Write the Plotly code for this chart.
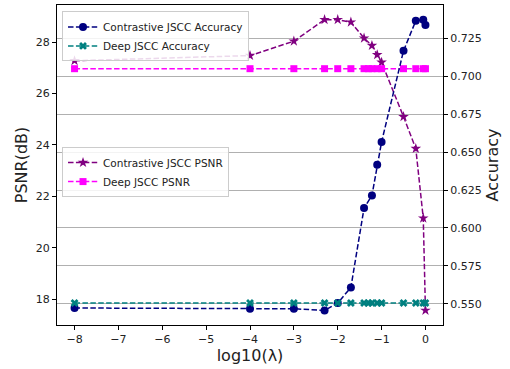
import plotly.graph_objects as go

# Data
x_contrastive = [-8, -4, -3, -2.3, -2, -1.7, -1.4, -1.22, -1.1, -1.0, -0.5, -0.22, -0.05, 0]
acc_contrastive = [0.5472, 0.5467, 0.5467, 0.5456, 0.5505, 0.5608, 0.6131, 0.6214, 0.6417,
                   0.6567, 0.7168, 0.7366, 0.7373, 0.7338]
psnr_contrastive = [27.28, 27.48, 28.04, 28.88, 28.88, 28.78, 28.16, 27.87, 27.51, 27.22,
                    25.10, 23.86, 21.15, 17.56]

x_deep = [-8, -4, -3, -2.3, -2, -1.7, -1.4, -1.3, -1.22, -1.1, -1.0, -0.5, -0.22, -0.05, 0]
acc_deep = [0.5505] * len(x_deep)
psnr_deep = [26.97] * len(x_deep)

x_ticks = [-8, -7, -6, -5, -4, -3, -2, -1, 0]
psnr_ticks = [18, 20, 22, 24, 26, 28]
acc_ticks = [0.550, 0.575, 0.600, 0.625, 0.650, 0.675, 0.700, 0.725]

FONT = "DejaVu Sans"
dash = "5.5px,2.4px"

fig = go.Figure()

fig.add_trace(go.Scatter(
    x=x_contrastive, y=acc_contrastive, name="Contrastive JSCC Accuracy", yaxis="y2",
    mode="lines+markers", line=dict(color="#000080", width=1.5, dash=dash),
    marker=dict(symbol="circle", size=8, color="#000080"), legend="legend"))
fig.add_trace(go.Scatter(
    x=x_deep, y=acc_deep, name="Deep JSCC Accuracy", yaxis="y2",
    mode="lines+markers", line=dict(color="#008080", width=1.5, dash=dash),
    marker=dict(symbol="x", size=7, color="#008080", line=dict(width=0)), legend="legend"))
fig.add_trace(go.Scatter(
    x=x_contrastive, y=psnr_contrastive, name="Contrastive JSCC PSNR", yaxis="y",
    mode="lines+markers", line=dict(color="#800080", width=1.5, dash=dash),
    marker=dict(symbol="star", size=8, color="#800080", line=dict(width=0)), legend="legend2"))
fig.add_trace(go.Scatter(
    x=x_deep, y=psnr_deep, name="Deep JSCC PSNR", yaxis="y",
    mode="lines+markers", line=dict(color="#FF00FF", width=1.5, dash=dash),
    marker=dict(symbol="square", size=7, color="#FF00FF"), legend="legend2"))

axis_common = dict(showline=True, linecolor="black", linewidth=1, ticks="outside",
                   ticklen=4, tickcolor="black", tickfont=dict(family=FONT, size=11, color="#222"),
                   zeroline=False)

fig.update_layout(
    width=510, height=369,
    margin=dict(l=57, r=67, t=5, b=44),
    paper_bgcolor="white", plot_bgcolor="white",
    font=dict(family=FONT, color="#222"),
    xaxis=dict(range=[-8.4, 0.4], tickvals=x_ticks, showgrid=False, mirror=True,
               title=dict(text="log10(λ)", font=dict(family=FONT, size=16, color="#222"), standoff=4),
               **axis_common),
    yaxis=dict(range=[16.99, 29.45], tickvals=psnr_ticks, showgrid=False,
               title=dict(text="PSNR(dB)", font=dict(family=FONT, size=16, color="#222"), standoff=4),
               **axis_common),
    yaxis2=dict(range=[0.536, 0.747], tickvals=acc_ticks, tickformat=".3f", overlaying="y",
                side="right", showgrid=True, gridcolor="#b0b0b0", gridwidth=1,
                title=dict(text="Accuracy", font=dict(family=FONT, size=16, color="#222"), standoff=6),
                **axis_common),
    legend=dict(x=0.013, y=0.98, xanchor="left", yanchor="top", bgcolor="rgba(255,255,255,0.85)",
                bordercolor="#cccccc", borderwidth=1, font=dict(family=FONT, size=10.5, color="#222"),
                tracegroupgap=0, itemwidth=30),
    legend2=dict(x=0.013, y=0.556, xanchor="left", yanchor="top", bgcolor="rgba(255,255,255,0.85)",
                 bordercolor="#cccccc", borderwidth=1, font=dict(family=FONT, size=10.5, color="#222"),
                 tracegroupgap=0, itemwidth=30),
    showlegend=True,
)

fig.write_html("out.html", config={"displayModeBar": False},
               post_script="document.body.style.margin='0';")
